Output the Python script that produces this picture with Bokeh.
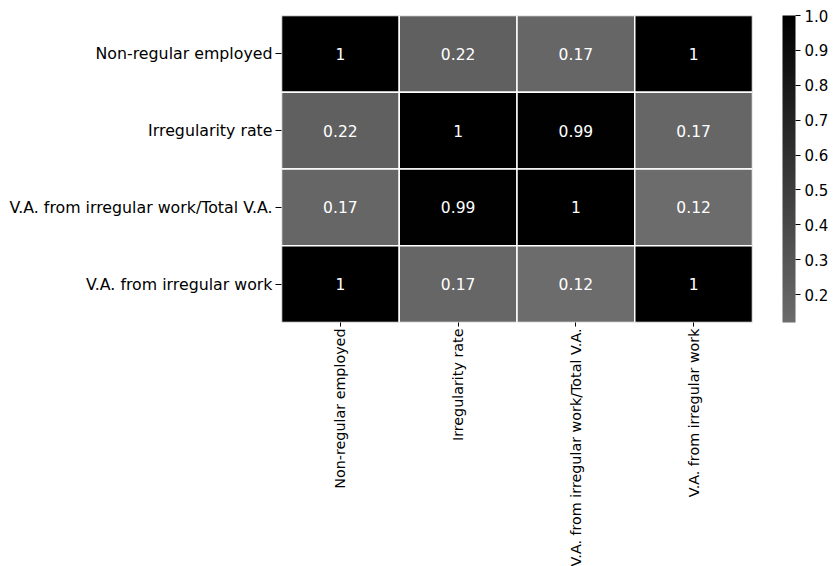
import math
from bokeh.plotting import figure
from bokeh.models import ColumnDataSource, LinearColorMapper, ColorBar, FixedTicker, PrintfTickFormatter
from bokeh.core.properties import value
from bokeh.embed import file_html
from bokeh.resources import INLINE

# Correlation matrix of the irregular-work indicators
variables = [
    "Non-regular employed",
    "Irregularity rate",
    "V.A. from irregular work/Total V.A.",
    "V.A. from irregular work",
]
corr_non_regular = [1.0, 0.22, 0.17, 1.0]
corr_irregularity = [0.22, 1.0, 0.99, 0.17]
corr_va_ratio = [0.17, 0.99, 1.0, 0.12]
corr_va_irregular = [1.0, 0.17, 0.12, 1.0]
colorbar_ticks = [0.2, 0.3, 0.4, 0.5, 0.6, 0.7, 0.8, 0.9, 1.0]

rows = [corr_non_regular, corr_irregularity, corr_va_ratio, corr_va_irregular]

xs, ys, vals, labels = [], [], [], []
for r, row_name in enumerate(variables):
    for c, col_name in enumerate(variables):
        v = rows[r][c]
        xs.append(col_name)
        ys.append(row_name)
        vals.append(v)
        labels.append(f"{v:g}")

src = ColumnDataSource(dict(x=xs, y=ys, v=vals, label=labels))

# grey-to-black palette
n = 256
start = 0x6c
palette = []
for i in range(n):
    g = round(start * (1 - i / (n - 1)))
    palette.append(f"#{g:02x}{g:02x}{g:02x}")
mapper = LinearColorMapper(palette=palette, low=min(vals), high=max(vals))

font = "DejaVu Sans"

p = figure(
    x_range=variables,
    y_range=list(reversed(variables)),
    frame_width=471,
    frame_height=307,
    width=838,
    height=566,
    min_border_left=281,
    min_border_top=15,
    min_border_bottom=5,
    min_border_right=10,
    output_backend="svg",
    toolbar_location=None,
    background_fill_color="white",
)
p.outline_line_color = None
p.grid.grid_line_color = None

p.rect(x="x", y="y", width=1, height=1, source=src,
       fill_color={"field": "v", "transform": mapper},
       line_color="white", line_width=1.5)
p.text(x="x", y="y", text="label", source=src,
       text_color="white", text_font=value(font), text_font_size="15.5px",
       text_align="center", text_baseline="middle")

for ax in (p.xaxis[0], p.yaxis[0]):
    ax.axis_line_color = None
    ax.major_tick_line_color = "black"
    ax.major_tick_in = 0
    ax.minor_tick_line_color = None
    ax.major_label_text_font = font
    ax.major_label_text_color = "black"
p.yaxis.major_tick_out = 6
p.yaxis.major_label_standoff = 3
p.yaxis.major_label_text_font_size = "15.8px"
p.xaxis.major_tick_out = 4
p.xaxis.major_label_text_font_size = "14.3px"
p.xaxis.major_label_standoff = 2
p.xaxis.major_label_orientation = math.pi / 2

cb = ColorBar(
    color_mapper=mapper,
    ticker=FixedTicker(ticks=colorbar_ticks),
    formatter=PrintfTickFormatter(format="%.1f"),
    width=13,
    height=307,
    padding=0,
    margin=0,
    location=(30, 0),
    bar_line_color=None,
    border_line_color=None,
    background_fill_color=None,
    major_tick_line_color="black",
    major_tick_in=0,
    major_tick_out=5,
    minor_tick_line_color=None,
    major_label_text_font=font,
    major_label_text_font_size="15px",
    major_label_text_color="black",
    label_standoff=4,
)
p.add_layout(cb, "right")

open("out.html", "w").write(file_html(p, INLINE))
